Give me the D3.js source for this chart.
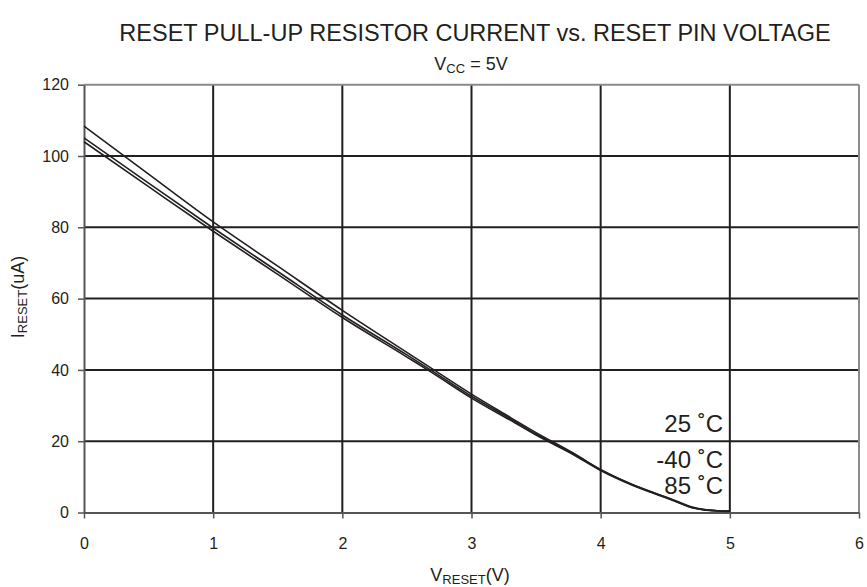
<!DOCTYPE html>
<html>
<head>
<meta charset="utf-8">
<script src="https://cdn.jsdelivr.net/npm/d3@7"></script>
<style>
  body { margin: 0; background: #fff; }
  svg { display: block; font-family: "Liberation Sans", Arial, sans-serif; }
</style>
</head>
<body>
<svg id="chart" width="867" height="587"></svg>
<script>
// Reset pin voltage (V) at which each current was measured
const vReset = [0, 0.5, 1, 1.5, 2, 2.5, 2.7, 3, 3.3, 3.5, 3.8, 4, 4.25, 4.5, 4.6, 4.7, 4.8, 4.9, 5];
// Pull-up current (uA) per temperature
const i25  = [108.4, 94.9, 81.5, 69.1, 56.7, 44.9, 40.2, 33.2, 26.7, 22.4, 16.4, 12.0, 7.8, 4.4, 3.0, 1.6, 0.8, 0.5, 0.4];
const iM40 = [105.1, 92.4, 79.8, 67.6, 55.4, 44.2, 39.6, 32.6, 26.3, 22.0, 16.2, 12.0, 7.7, 4.3, 2.9, 1.5, 0.8, 0.5, 0.4];
const i85  = [104.0, 91.4, 78.9, 66.8, 54.7, 43.6, 39.1, 32.1, 25.9, 21.7, 16.0, 11.8, 7.6, 4.2, 2.8, 1.4, 0.7, 0.4, 0.3];
const seriesNames = ["25 ˚C", "-40 ˚C", "85 ˚C"];
const xTicks = [0, 1, 2, 3, 4, 5, 6];
const yTicks = [0, 20, 40, 60, 80, 100, 120];

const svg = d3.select("#chart");
const ink = "#231f20";
const frame = "#8a8a8a";

const x = d3.scaleLinear().domain([0, 6]).range([84, 859]);
const y = d3.scaleLinear().domain([0, 120]).range([512.5, 84.7]);

// Title and subtitle
svg.append("text")
  .attr("x", 475).attr("y", 41)
  .attr("text-anchor", "middle")
  .attr("font-size", 23.5).attr("fill", ink)
  .text("RESET PULL-UP RESISTOR CURRENT vs. RESET PIN VOLTAGE");

const sub = svg.append("text")
  .attr("x", 471).attr("y", 70)
  .attr("text-anchor", "middle")
  .attr("font-size", 18).attr("fill", ink);
sub.append("tspan").text("V");
sub.append("tspan").attr("font-size", 13).attr("dy", 3).text("CC");
sub.append("tspan").attr("dy", -3).text(" = 5V");

// Grid
const grid = svg.append("g");
grid.selectAll("line.h")
  .data(yTicks.filter(d => d > 0 && d < 120))
  .join("line")
  .attr("x1", x(0)).attr("x2", x(6))
  .attr("y1", d => y(d)).attr("y2", d => y(d))
  .attr("stroke", ink).attr("stroke-width", 2);
grid.selectAll("line.v")
  .data(xTicks.filter(d => d > 0 && d < 6))
  .join("line")
  .attr("y1", y(0)).attr("y2", y(120))
  .attr("x1", d => x(d)).attr("x2", d => x(d))
  .attr("stroke", ink).attr("stroke-width", 2);

// Plot frame: top and right in grey
svg.append("line").attr("x1", x(0)).attr("x2", x(6)).attr("y1", y(120)).attr("y2", y(120))
  .attr("stroke", frame).attr("stroke-width", 2);
svg.append("line").attr("x1", x(6)).attr("x2", x(6)).attr("y1", y(0)).attr("y2", y(120))
  .attr("stroke", frame).attr("stroke-width", 2);

// Axes
const xAxis = svg.append("g")
  .attr("transform", `translate(0,${y(0)})`)
  .call(d3.axisBottom(x).tickValues(xTicks).tickFormat(d3.format("d"))
    .tickSize(6).tickSizeOuter(0).tickPadding(19));
const yAxis = svg.append("g")
  .attr("transform", `translate(${x(0)},0)`)
  .call(d3.axisLeft(y).tickValues(yTicks).tickFormat(d3.format("d"))
    .tickSize(6).tickSizeOuter(0).tickPadding(9));
[xAxis, yAxis].forEach(g => {
  g.select(".domain").attr("stroke", "#555").attr("stroke-width", 2);
  g.selectAll(".tick line").attr("stroke", "#555").attr("stroke-width", 1.5);
  g.selectAll(".tick text").attr("font-size", 16).attr("fill", ink)
    .attr("font-family", "Liberation Sans, Arial, sans-serif");
});

// Curves
const line = d3.line().x((d, i) => x(vReset[i])).y(d => y(d)).curve(d3.curveMonotoneX);
svg.append("g").selectAll("path")
  .data([i25, iM40, i85])
  .join("path")
  .attr("d", d => line(d))
  .attr("fill", "none")
  .attr("stroke", ink)
  .attr("stroke-width", 1.6);

// Series labels
const labelY = [432, 468, 494];
svg.append("g").selectAll("text")
  .data(seriesNames)
  .join("text")
  .attr("x", 723).attr("y", (d, i) => labelY[i])
  .attr("text-anchor", "end")
  .attr("font-size", 24).attr("fill", ink)
  .text(d => d);

// Axis titles
const xt = svg.append("text")
  .attr("x", 470).attr("y", 581)
  .attr("text-anchor", "middle")
  .attr("font-size", 18).attr("fill", ink);
xt.append("tspan").text("V");
xt.append("tspan").attr("font-size", 13).attr("dy", 3).text("RESET");
xt.append("tspan").attr("dy", -3).text("(V)");

const yt = svg.append("text")
  .attr("transform", "translate(24,297) rotate(-90)")
  .attr("text-anchor", "middle")
  .attr("font-size", 18).attr("fill", ink);
yt.append("tspan").text("I");
yt.append("tspan").attr("font-size", 13).attr("dy", 3).text("RESET");
yt.append("tspan").attr("dy", -3).text("(uA)");
</script>
</body>
</html>
